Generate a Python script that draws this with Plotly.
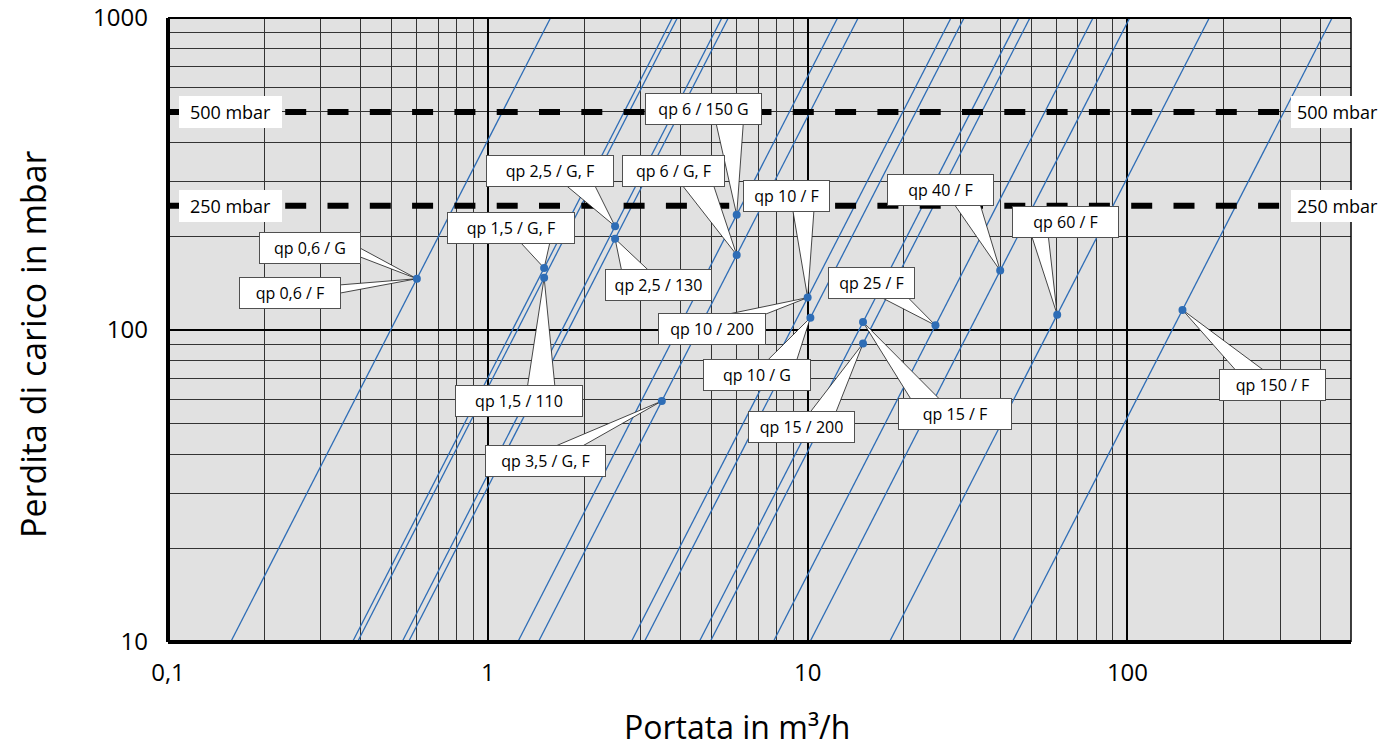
import math
import plotly.graph_objects as go

# ---------------- data ----------------
# Pressure-loss curves: one anchor point (flow m3/h, loss mbar) per curve, dp ~ q^2
curve_q = [0.6, 1.5, 1.5, 2.5, 2.5, 6, 6, 10, 10.2, 14.9, 14.9, 25.1, 40, 60.3, 148.6]
curve_dp = [146, 158, 147, 215, 196, 234, 174, 127, 109.5, 106, 90.5, 103.5, 155, 112, 116]

# Marked points on the curves
point_q = [0.6, 1.5, 1.5, 2.5, 2.5, 6, 6, 3.5, 10, 10.2, 14.9, 14.9, 25.1, 40, 60.3, 148.6]
point_dp = [146, 158, 147, 215, 196, 234, 174, 59.2, 127, 109.5, 106, 90.5, 103.5, 155, 112, 116]

# Callout labels and the point each one refers to
label_text = ["qp 0,6 / G", "qp 0,6 / F", "qp 1,5 / G, F", "qp 1,5 / 110",
              "qp 2,5 / G, F", "qp 2,5 / 130", "qp 6 / 150 G", "qp 6 / G, F",
              "qp 10 / F", "qp 10 / 200", "qp 10 / G", "qp 15 / 200",
              "qp 15 / F", "qp 25 / F", "qp 40 / F", "qp 60 / F",
              "qp 150 / F", "qp 3,5 / G, F"]
label_point = [0, 0, 1, 2, 3, 4, 5, 6, 8, 8, 9, 11, 10, 12, 13, 14, 15, 7]

# Reference pressure levels
limit_dp = [500, 250]
limit_text = ["500 mbar", "250 mbar"]

# Axis ticks
x_tickvals = [0.1, 1, 10, 100]
x_ticktext = ["0,1", "1", "10", "100"]
y_tickvals = [10, 100, 1000]
y_ticktext = ["10", "100", "1000"]

# ---------------- layout geometry ----------------
W, H = 1386, 749
ML, MR, MT, MB = 168, 35, 18, 107
XMIN, XMAX = -1.0, math.log10(500)
YMIN, YMAX = 1.0, 3.0
PW = W - ML - MR
PH = H - MT - MB
PXX = PW / (XMAX - XMIN)
PXY = PH / (YMAX - YMIN)


def px_to_q(px):
    return 10 ** ((px - ML) / PXX + XMIN)


def py_to_dp(py):
    return 10 ** (YMAX - (py - MT) / PXY)


# label box placement (pixel centre, width, side of the pointer, pointer base offsets)
BOX_H = 31.5
label_layout = [
    (310.0, 247.5, 102, "right", 0, 9),
    (289.8, 293.3, 102, "right", -8.3, 0),
    (511.3, 228.2, 128, "bottom", 8.7, 38.7),
    (518.7, 401.3, 128, "top", 8.6, 36.3),
    (550.0, 170.8, 128, "bottom", 15, 44.3),
    (658.2, 284.8, 107, "top", -36.5, -8.9),
    (703.7, 109.2, 117, "bottom", 12.3, 39.6),
    (673.3, 170.8, 103, "bottom", 8.4, 40),
    (786.7, 195.8, 87, "bottom", 6, 27.3),
    (712.0, 328.5, 108, "top", 13, 52),
    (757.2, 375.2, 108, "top", 9.2, 39.1),
    (801.6, 427.2, 107, "top", 7.6, 33.8),
    (954.5, 413.5, 114, "top", -43.2, -14.3),
    (871.4, 282.5, 87, "bottom", 7.6, 35.3),
    (940.3, 190.2, 107, "bottom", 13.7, 39.7),
    (1065.3, 222.3, 107, "bottom", -33.6, -17),
    (1272.9, 385.2, 107, "top", -36.1, -7.6),
    (545.0, 461.2, 121, "top", 7.3, 35),
]

BLUE = "#2e6db6"
FONT = "Open Sans"

fig = go.Figure()

# curves
for q, dp in zip(curve_q, curve_dp):
    xs = [q * math.sqrt(10 / dp), q * math.sqrt(1000 / dp)]
    ys = [10, 1000]
    fig.add_trace(go.Scatter(x=xs, y=ys, mode="lines",
                             line=dict(color=BLUE, width=1.3),
                             hoverinfo="skip", showlegend=False))

# dashed reference levels
dash_start = px_to_q(ML - 9.7)
for dp in limit_dp:
    fig.add_trace(go.Scatter(x=[dash_start, 500], y=[dp, dp], mode="lines",
                             line=dict(color="black", width=6, dash="21px,21.3px"),
                             hoverinfo="skip", showlegend=False))

# callout pointers (wedges)
for (cx, cy, w, side, b0, b1), pi in zip(label_layout, label_point):
    ax, ay = point_q[pi], point_dp[pi]
    if side == "bottom":
        pts = [(cx + b0, cy + BOX_H / 2 - 2), (cx + b1, cy + BOX_H / 2 - 2)]
    elif side == "top":
        pts = [(cx + b0, cy - BOX_H / 2 + 2), (cx + b1, cy - BOX_H / 2 + 2)]
    else:
        pts = [(cx + w / 2 - 2, cy + b0), (cx + w / 2 - 2, cy + b1)]
    xs = [px_to_q(pts[0][0]), ax, px_to_q(pts[1][0]), px_to_q(pts[0][0])]
    ys = [py_to_dp(pts[0][1]), ay, py_to_dp(pts[1][1]), py_to_dp(pts[0][1])]
    fig.add_trace(go.Scatter(x=xs, y=ys, mode="lines", fill="toself",
                             fillcolor="white",
                             line=dict(color="#1a1a1a", width=0.8),
                             hoverinfo="skip", showlegend=False))

# points
fig.add_trace(go.Scatter(x=point_q, y=point_dp, mode="markers",
                         marker=dict(color=BLUE, size=8),
                         hoverinfo="skip", showlegend=False))

annotations = []
for (cx, cy, w, side, b0, b1), txt in zip(label_layout, label_text):
    annotations.append(dict(
        x=math.log10(px_to_q(cx)), y=math.log10(py_to_dp(cy)),
        xref="x", yref="y", text=txt, showarrow=False,
        xanchor="center", yanchor="middle",
        width=w - 2, height=BOX_H - 2, borderpad=0,
        bgcolor="white", bordercolor="#505050", borderwidth=1,
        font=dict(family=FONT, size=16, color="black")))

for dp, txt in zip(limit_dp, limit_text):
    for cxp, bw in [(230.5, 103), (1337.0, 93)]:
        annotations.append(dict(
            x=(cxp - ML) / PW, y=math.log10(dp), xref="paper", yref="y",
            text=txt, showarrow=False, xanchor="center", yanchor="middle",
            width=bw, height=BOX_H, borderpad=0, borderwidth=0,
            bgcolor="white",
            font=dict(family=FONT, size=18, color="black")))

annotations.append(dict(
    x=(736.5 - ML) / PW, y=((MT + PH) - 726) / PH,
    xref="paper", yref="paper", text="Portata in m³/h", showarrow=False,
    xanchor="center", yanchor="middle",
    font=dict(family=FONT, size=32, color="black")))
annotations.append(dict(
    x=(33 - ML) / PW, y=((MT + PH) - 344) / PH,
    xref="paper", yref="paper", text="Perdita di carico in mbar",
    showarrow=False, textangle=-90, xanchor="center", yanchor="middle",
    font=dict(family=FONT, size=34, color="black")))

minor_x = [m * 10 ** e for e in (-1, 0, 1, 2) for m in range(2, 10) if m * 10 ** e <= 500]
minor_y = [m * 10 ** e for e in (1, 2) for m in range(2, 10)]

shapes = [
    dict(type="line", xref="paper", yref="paper", x0=0, x1=1, y0=1, y1=1,
         line=dict(color="black", width=2), layer="above"),
    dict(type="line", xref="paper", yref="paper", x0=1, x1=1, y0=0, y1=1,
         line=dict(color="black", width=1.5), layer="above"),
    dict(type="line", xref="paper", yref="paper", x0=0, x1=0, y0=0, y1=1,
         line=dict(color="black", width=4), layer="above"),
    dict(type="line", xref="paper", yref="paper", x0=0, x1=1, y0=0, y1=0,
         line=dict(color="black", width=4), layer="above"),
]

fig.update_layout(
    width=W, height=H,
    margin=dict(l=ML, r=MR, t=MT, b=MB, pad=0, autoexpand=False),
    paper_bgcolor="white", plot_bgcolor="#e1e1e1",
    showlegend=False,
    annotations=annotations, shapes=shapes,
    xaxis=dict(type="log", range=[XMIN, XMAX], tickmode="array",
               tickvals=x_tickvals, ticktext=x_ticktext, automargin=False,
               tickfont=dict(family=FONT, size=24, color="black"),
               ticks="", ticklabelstandoff=14,
               showgrid=True, gridcolor="black", gridwidth=2,
               zeroline=False, showline=False,
               minor=dict(tickmode="array", tickvals=minor_x, showgrid=True,
                          gridcolor="#333333", gridwidth=1, ticks="")),
    yaxis=dict(type="log", range=[YMIN, YMAX], tickmode="array",
               tickvals=y_tickvals, ticktext=y_ticktext, automargin=False,
               tickfont=dict(family=FONT, size=24, color="black"),
               ticks="", ticklabelstandoff=19,
               showgrid=True, gridcolor="black", gridwidth=2,
               zeroline=False, showline=False,
               minor=dict(tickmode="array", tickvals=minor_y, showgrid=True,
                          gridcolor="#333333", gridwidth=1, ticks="")),
)

fig.write_html("out.html", config={"displayModeBar": False},
               post_script="document.body.style.margin='0';")
